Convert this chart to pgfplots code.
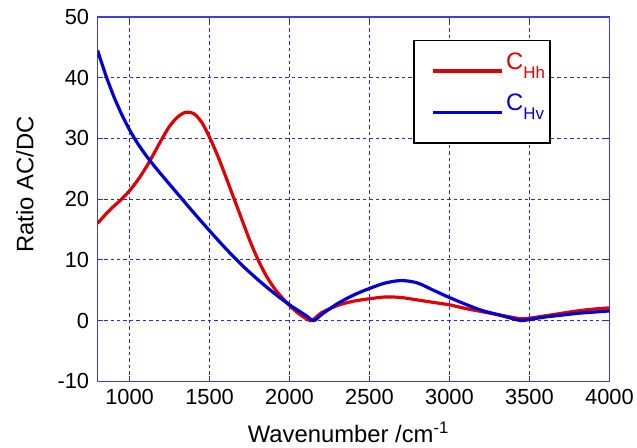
\documentclass[border=0pt]{standalone}
\usepackage{pgfplots}
\pgfplotsset{compat=1.18}
\usepackage{fontspec}
\setmainfont{Liberation Sans}
\definecolor{cred}{RGB}{220,0,0}
\definecolor{cblue}{RGB}{0,0,210}
\definecolor{gridblue}{RGB}{40,40,230}
\definecolor{axblue}{RGB}{60,60,225}
\begin{document}
\begin{tikzpicture}
\begin{axis}[
  scale only axis,
  width=514bp, height=366bp,
  xmin=800, xmax=4000, ymin=-10, ymax=50,
  xtick={1000,1500,2000,2500,3000,3500,4000},
  ytick={-10,0,10,20,30,40,50},
  /pgf/number format/assume math mode=true,
  /pgf/number format/1000 sep={},
  tick label style={font=\fontsize{22}{26}\selectfont},
  xticklabel style={yshift=-4bp},
  yticklabel style={xshift=-5bp},
  label style={font=\fontsize{24}{28}\selectfont},
  xlabel={Wavenumber /cm\textsuperscript{-1}},
  ylabel={Ratio AC/DC},
  xlabel style={at={(axis description cs:0.49,0)}, anchor=base, yshift=-61bp},
  ylabel style={at={(axis description cs:-0.142,0.54)}, anchor=center, rotate=0},
  axis line style={axblue, line width=1.4bp},
  tick style={gridblue, line width=1.2bp},
  major tick length=5bp,
  tick align=inside,
  grid=major,
  major grid style={gridblue, line width=1.2bp, dash pattern=on 3.5bp off 3bp},
  legend style={at={(0.617,0.937)}, anchor=north west, draw=black, line width=1.6bp,
    font=\fontsize{24}{26}\selectfont, inner xsep=3bp, inner ysep=10bp,
    nodes={text depth=20.6bp},
    /tikz/row sep=0bp, cells={anchor=west}},
  legend image code/.code={\path (0bp,0bp); \draw[#1, line width=3.5bp] (14bp,0bp) -- (84bp,0bp);},
  every axis plot/.append style={line width=3.2bp, smooth},
]
\addplot[cred] coordinates {
(800,16) (850,17.5) (900,18.8) (950,20.0) (1000,21.4) (1050,23.1) (1100,25.1) (1150,27.4)
(1200,29.8) (1250,32.0) (1300,33.5) (1350,34.3) (1400,34.1) (1450,32.7) (1500,30.2)
(1550,27.2) (1600,23.8) (1650,20.3) (1700,16.8) (1750,13.3) (1800,10.2) (1850,7.6)
(1900,5.5) (1950,3.9) (2000,2.5) (2050,1.3) (2100,0.4) (2130,0) (2160,0.4)
(2200,1.3) (2300,2.5) (2400,3.2) (2500,3.6) (2600,3.9) (2700,3.8) (2800,3.4)
(2900,3) (3000,2.6) (3100,2) (3200,1.5) (3300,1) (3400,0.5) (3450,0.3)
(3500,0.4) (3600,0.8) (3700,1.2) (3800,1.6) (3900,1.9) (4000,2.1)
};
\addlegendentry{\textcolor{cred}{C\raisebox{-9bp}{\fontsize{17}{17}\selectfont Hh}}}
\addplot[cblue] coordinates {
(800,44.5) (850,40.5) (900,37.0) (950,34.0) (1000,31.4) (1050,29.2) (1100,27.3)
(1150,25.6) (1200,24.0) (1300,20.9) (1400,17.8) (1500,14.8) (1600,11.9) (1700,9.2)
(1800,6.8) (1900,4.6) (2000,2.6) (2100,0.9) (2150,0) (2200,1) (2300,2.8) (2400,4.2) (2500,5.3)
(2600,6.2) (2700,6.6) (2800,6.2) (2900,5) (3000,3.8) (3100,2.7) (3200,1.7)
(3300,1) (3400,0.3) (3450,0) (3500,0.2) (3600,0.6) (3700,0.9) (3800,1.2)
(3900,1.4) (4000,1.6)
};
\addlegendentry{\textcolor{cblue}{C\raisebox{-9bp}{\fontsize{17}{17}\selectfont Hv}}}
\end{axis}
\path ([shift={(-98bp,-66bp)}]current axis.south west) rectangle ([shift={(25bp,17bp)}]current axis.north east);
\end{tikzpicture}
\end{document}
